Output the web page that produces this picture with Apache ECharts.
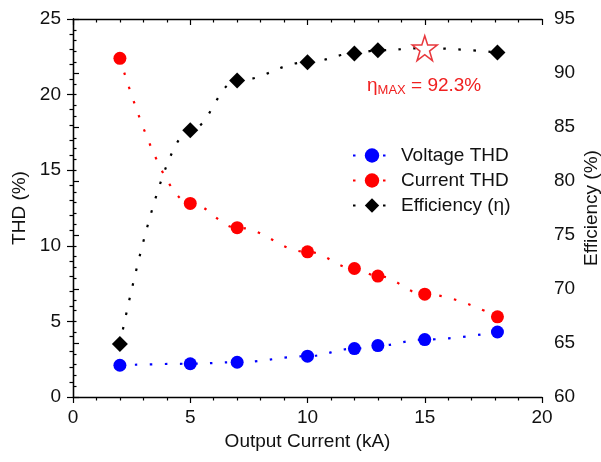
<!DOCTYPE html>
<html>
<head>
<meta charset="utf-8">
<script src="https://cdn.jsdelivr.net/npm/echarts@6/dist/echarts.min.js"></script>
<style>
  html, body { margin: 0; padding: 0; background: #fff; }
  #chart { width: 601px; height: 462px; }
</style>
</head>
<body>
<div id="chart"></div>
<script>
// output current (kA)
var current = [2, 5, 7, 10, 12, 13, 15, 18.1];
// THD (%)
var voltageTHD = [2.1, 2.2, 2.3, 2.7, 3.2, 3.4, 3.8, 4.3];
var currentTHD = [22.4, 12.8, 11.2, 9.6, 8.5, 8.0, 6.8, 5.3];
// efficiency (%)
var efficiency = [64.9, 84.7, 89.3, 91.0, 91.8, 92.1, 92.3, 91.9];
var maxIndex = 6;

var font = 'Liberation Sans, Arial, sans-serif';
var starPath = 'path://M50,4 L61,38 L97,38 L68,60 L79,95 L50,73 L21,95 L32,60 L3,38 L39,38 Z';

function pairs(xs, ys) {
	return xs.map(function (x, i) { return [x, ys[i]]; });
}

var effData = pairs(current, efficiency).map(function (p, i) {
	if (i === maxIndex) {
		return {
			value: p,
			symbol: starPath,
			symbolSize: 25,
			itemStyle: { color: '#fff', borderColor: '#e8383d', borderWidth: 1.5 }
		};
	}
	return p;
});

var dotted = function (color) {
	return { color: color, width: 2.2, type: [2.5, 12.5] };
};

var tickStyle = { color: '#000', width: 1.2 };

var chart = echarts.init(document.getElementById('chart'));
var option = {
	animation: false,
	textStyle: { fontFamily: font },
	grid: { left: 73, right: 59, top: 19, bottom: 65, outerBoundsMode: 'none' },
	legend: {
		left: 347,
		top: 141,
		orient: 'vertical',
		itemWidth: 38,
		itemHeight: 18,
		itemGap: 6,
		textStyle: { fontSize: 19, color: '#111', fontFamily: font, padding: [0, 0, 0, 5] },
		data: ['Voltage THD', 'Current THD', 'Efficiency (\u03B7)']
	},
	xAxis: [
		{
			type: 'value', min: 0, max: 20, interval: 5,
			name: 'Output Current (kA)', nameLocation: 'middle', nameGap: 35,
			nameMoveOverlap: false,
			nameTextStyle: { fontSize: 19, color: '#111' },
			axisLine: { lineStyle: { color: '#000', width: 1.3 } },
			axisTick: { length: 6, lineStyle: tickStyle },
			minorTick: { show: true, splitNumber: 5, length: 3.5, lineStyle: tickStyle },
			axisLabel: { fontSize: 19, color: '#111', margin: 11 },
			splitLine: { show: false }
		},
		{
			type: 'value', min: 0, max: 20, interval: 5, position: 'top',
			axisLine: { show: true, lineStyle: { color: '#000', width: 1.3 } },
			axisTick: { show: true, inside: true, length: 6, lineStyle: tickStyle },
			minorTick: { show: true, splitNumber: 5, length: 3.5, lineStyle: tickStyle },
			axisLabel: { show: false },
			splitLine: { show: false }
		}
	],
	yAxis: [
		{
			type: 'value', min: 0, max: 25, interval: 5,
			name: 'THD (%)', nameLocation: 'middle', nameGap: 44,
			nameMoveOverlap: false,
			nameTextStyle: { fontSize: 19, color: '#111' },
			axisLine: { show: true, lineStyle: { color: '#000', width: 1.3 } },
			axisTick: { show: true, length: 6, lineStyle: tickStyle },
			minorTick: { show: true, splitNumber: 5, length: 3.5, lineStyle: tickStyle },
			axisLabel: { fontSize: 19, color: '#111', margin: 12 },
			splitLine: { show: false }
		},
		{
			type: 'value', min: 60, max: 95, interval: 5, position: 'right',
			name: 'Efficiency (%)', nameLocation: 'middle', nameGap: 40,
			nameMoveOverlap: false,
			nameTextStyle: { fontSize: 19, color: '#111' },
			axisLine: { show: true, lineStyle: { color: '#000', width: 1.3 } },
			axisTick: { show: true, length: 6, lineStyle: tickStyle },
			minorTick: { show: true, splitNumber: 5, length: 3.5, lineStyle: tickStyle },
			axisLabel: { fontSize: 19, color: '#111', margin: 12 },
			splitLine: { show: false }
		}
	],
	series: [
		{
			name: 'Voltage THD', type: 'line', yAxisIndex: 0,
			data: pairs(current, voltageTHD),
			smooth: 0.4, smoothMonotone: 'x',
			symbol: 'circle', symbolSize: 13,
			itemStyle: { color: '#0000ff' },
			lineStyle: dotted('#0000ff'),
			z: 3
		},
		{
			name: 'Current THD', type: 'line', yAxisIndex: 0,
			data: pairs(current, currentTHD),
			smooth: 0.4, smoothMonotone: 'x',
			symbol: 'circle', symbolSize: 13,
			itemStyle: { color: '#ff0000' },
			lineStyle: dotted('#ff0000'),
			z: 3
		},
		{
			name: 'Efficiency (\u03B7)', type: 'line', yAxisIndex: 1,
			data: effData,
			smooth: 0.4, smoothMonotone: 'x',
			symbol: 'diamond', symbolSize: 16,
			itemStyle: { color: '#000' },
			lineStyle: dotted('#000'),
			z: 2
		}
	],
	graphic: [
		{
			type: 'text', left: 367, top: 76,
			style: {
				text: '{a|\u03B7}{b|MAX}{a| = 92.3%}',
				rich: {
					a: { fontSize: 19, fill: '#f02020', fontFamily: font },
					b: { fontSize: 13, fill: '#f02020', fontFamily: font, verticalAlign: 'bottom', padding: [10, 0, 0, 0] }
				}
			}
		}
	]
};
chart.setOption(option);
</script>
</body>
</html>
